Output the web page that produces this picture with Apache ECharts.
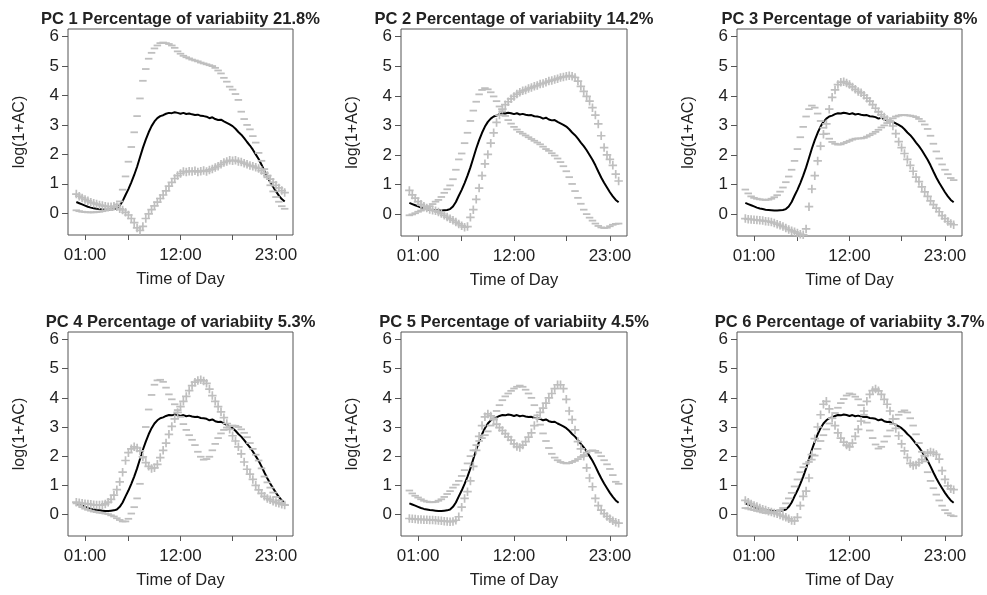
<!DOCTYPE html>
<html><head><meta charset="utf-8">
<script src="https://cdn.jsdelivr.net/npm/echarts@6/dist/echarts.min.js"></script>
<style>html,body{margin:0;padding:0;background:#fff}#c{width:987px;height:595px}</style>
</head><body><div id="c"></div>
<script>
// time of day in minutes since midnight (20-minute bins)
const minutes = [0,20,40,60,80,100,120,140,160,180,200,220,240,260,280,300,320,340,360,380,400,420,440,460,480,500,520,540,560,580,600,620,640,660,680,700,720,740,760,780,800,820,840,860,880,900,920,940,960,980,1000,1020,1040,1060,1080,1100,1120,1140,1160,1180,1200,1220,1240,1260,1280,1300,1320,1340,1360,1380,1400,1420,1440];
const xTickValues = [60,360,720,1080,1380];
const xLabelValues = [60,720,1380];
const yTickValues = [0,1,2,3,4,5,6];

const panelTitles = [
  "PC 1 Percentage of variabiity 21.8%",
  "PC 2 Percentage of variabiity 14.2%",
  "PC 3 Percentage of variabiity 8%",
  "PC 4 Percentage of variabiity 5.3%",
  "PC 5 Percentage of variabiity 4.5%",
  "PC 6 Percentage of variabiity 3.7%"
];

const meanCurve = [0.38,0.34,0.30,0.26,0.22,0.19,0.17,0.15,0.14,0.13,0.12,0.12,0.13,0.14,0.17,0.26,0.41,0.62,0.82,1.05,1.30,1.58,1.90,2.22,2.50,2.75,2.96,3.12,3.23,3.30,3.33,3.38,3.41,3.40,3.43,3.41,3.38,3.41,3.37,3.39,3.36,3.34,3.35,3.31,3.30,3.28,3.23,3.26,3.20,3.17,3.18,3.12,3.07,3.02,2.96,2.87,2.76,2.67,2.55,2.42,2.30,2.16,2.00,1.84,1.65,1.44,1.24,1.06,0.90,0.74,0.60,0.48,0.40];

const pc1Plus = [0.65,0.58,0.52,0.47,0.42,0.37,0.34,0.31,0.28,0.26,0.24,0.22,0.22,0.24,0.22,0.15,0.11,0.03,-0.06,-0.18,-0.32,-0.50,-0.58,-0.45,-0.18,-0.02,0.12,0.25,0.38,0.50,0.62,0.76,0.92,1.05,1.18,1.28,1.35,1.42,1.40,1.43,1.42,1.44,1.40,1.43,1.45,1.42,1.47,1.50,1.55,1.60,1.66,1.72,1.76,1.80,1.78,1.80,1.76,1.74,1.70,1.66,1.62,1.60,1.56,1.52,1.45,1.36,1.28,1.16,1.05,0.95,0.86,0.77,0.70];
const pc1Minus = [0.10,0.07,0.05,0.04,0.03,0.03,0.03,0.04,0.05,0.07,0.09,0.11,0.14,0.20,0.30,0.40,0.80,1.25,1.75,2.25,2.75,3.30,3.90,4.50,4.90,5.25,5.45,5.60,5.70,5.78,5.80,5.78,5.75,5.70,5.62,5.50,5.42,5.35,5.30,5.26,5.22,5.19,5.16,5.12,5.09,5.06,5.03,5.00,4.94,4.85,4.75,4.60,4.47,4.30,4.20,4.05,3.85,3.45,3.20,3.00,2.85,2.62,2.40,2.05,1.78,1.50,1.22,0.95,0.74,0.55,0.39,0.24,0.15];

const pc2Plus = [0.80,0.65,0.54,0.42,0.33,0.27,0.21,0.16,0.13,0.11,0.07,0.02,-0.04,-0.10,-0.16,-0.21,-0.27,-0.33,-0.39,-0.44,-0.42,-0.11,0.15,0.50,0.88,1.30,1.70,2.02,2.40,2.75,3.10,3.35,3.55,3.70,3.80,3.90,3.98,4.06,4.12,4.17,4.20,4.25,4.28,4.32,4.35,4.40,4.42,4.46,4.50,4.52,4.55,4.58,4.62,4.64,4.66,4.68,4.66,4.62,4.50,4.32,4.15,3.98,3.82,3.60,3.35,3.05,2.65,2.25,2.00,1.85,1.65,1.35,1.12];
const pc2Minus = [-0.04,-0.01,0.03,0.08,0.12,0.16,0.21,0.27,0.34,0.42,0.48,0.58,0.72,0.84,0.97,1.18,1.50,1.85,2.05,2.40,2.75,3.15,3.50,3.80,4.05,4.20,4.26,4.22,4.12,3.98,3.82,3.64,3.48,3.32,3.18,3.06,2.95,2.86,2.78,2.72,2.66,2.60,2.54,2.48,2.42,2.36,2.28,2.20,2.14,2.06,1.98,1.88,1.76,1.62,1.45,1.25,1.02,0.78,0.55,0.35,0.15,0.00,-0.12,-0.22,-0.32,-0.40,-0.45,-0.47,-0.46,-0.41,-0.36,-0.33,-0.32];

const pc3Plus = [-0.15,-0.17,-0.18,-0.19,-0.20,-0.21,-0.22,-0.24,-0.25,-0.27,-0.30,-0.34,-0.38,-0.42,-0.47,-0.52,-0.56,-0.60,-0.64,-0.68,-0.70,-0.50,0.25,0.85,1.30,1.80,2.30,2.70,3.05,3.55,3.95,4.20,4.38,4.46,4.48,4.43,4.38,4.30,4.22,4.15,4.10,4.02,3.92,3.82,3.70,3.58,3.46,3.36,3.28,3.20,3.12,2.98,2.72,2.45,2.25,2.05,1.85,1.65,1.45,1.25,1.10,0.92,0.75,0.60,0.45,0.32,0.20,0.08,-0.05,-0.15,-0.25,-0.32,-0.36];
const pc3Minus = [0.83,0.70,0.60,0.55,0.52,0.50,0.49,0.48,0.49,0.52,0.57,0.64,0.76,0.90,1.08,1.27,1.50,1.80,2.20,2.60,2.95,3.30,3.55,3.67,3.60,3.40,3.15,2.92,2.72,2.55,2.44,2.38,2.35,2.36,2.40,2.44,2.48,2.52,2.55,2.56,2.56,2.58,2.62,2.67,2.72,2.78,2.85,2.93,3.00,3.08,3.16,3.24,3.30,3.33,3.35,3.35,3.34,3.33,3.31,3.28,3.22,3.14,3.03,2.88,2.65,2.38,2.12,1.88,1.68,1.50,1.35,1.22,1.15];

const pc4Plus = [0.42,0.40,0.38,0.37,0.36,0.35,0.33,0.32,0.32,0.33,0.36,0.42,0.52,0.66,0.85,1.12,1.45,1.85,2.12,2.25,2.32,2.28,2.18,1.98,1.78,1.65,1.58,1.60,1.72,1.95,2.20,2.45,2.75,3.02,3.28,3.50,3.70,3.88,4.05,4.25,4.42,4.54,4.60,4.62,4.58,4.50,4.30,4.08,3.88,3.70,3.52,3.32,3.12,2.92,2.70,2.52,2.32,2.08,1.80,1.55,1.38,1.20,1.00,0.84,0.72,0.62,0.55,0.50,0.45,0.41,0.38,0.35,0.32];
const pc4Minus = [0.38,0.32,0.25,0.20,0.16,0.13,0.10,0.08,0.06,0.05,0.03,0.01,-0.03,-0.07,-0.13,-0.19,-0.24,-0.24,-0.15,0.03,0.25,0.55,1.05,1.95,3.00,3.60,4.10,4.45,4.60,4.62,4.55,4.35,4.12,3.95,3.78,3.58,3.35,3.10,2.90,2.72,2.56,2.38,2.15,1.98,1.88,1.90,1.98,2.20,2.42,2.62,2.78,2.90,2.98,3.03,3.05,3.04,3.00,2.92,2.80,2.65,2.45,2.25,2.05,1.85,1.58,1.30,1.10,0.92,0.75,0.60,0.48,0.40,0.33];

const pc5Plus = [-0.14,-0.15,-0.16,-0.17,-0.17,-0.18,-0.18,-0.19,-0.19,-0.20,-0.21,-0.22,-0.23,-0.24,-0.25,-0.24,-0.20,-0.08,0.25,0.55,0.78,1.15,1.65,2.20,2.68,3.05,3.35,3.45,3.38,3.25,3.10,2.98,2.88,2.77,2.66,2.55,2.42,2.33,2.30,2.38,2.50,2.65,2.80,3.05,3.30,3.50,3.65,3.82,4.00,4.15,4.32,4.45,4.45,4.32,3.95,3.55,3.25,2.90,2.50,2.25,2.00,1.60,1.25,0.95,0.55,0.30,0.15,0.03,-0.07,-0.15,-0.22,-0.27,-0.30];
const pc5Minus = [0.82,0.72,0.64,0.58,0.52,0.47,0.44,0.42,0.42,0.43,0.47,0.52,0.60,0.70,0.80,0.92,1.02,1.15,1.32,1.52,1.75,2.00,2.20,2.38,2.52,2.62,2.72,2.85,3.05,3.30,3.55,3.75,3.92,4.05,4.15,4.24,4.32,4.38,4.42,4.38,4.28,4.15,4.00,3.75,3.40,3.08,2.78,2.52,2.28,2.08,1.95,1.86,1.80,1.77,1.75,1.76,1.80,1.84,1.90,1.97,2.04,2.12,2.18,2.20,2.18,2.12,2.00,1.86,1.72,1.56,1.35,1.12,1.05];

const pc6Plus = [0.48,0.42,0.36,0.31,0.27,0.22,0.18,0.15,0.11,0.08,0.05,0.02,-0.02,-0.06,-0.10,-0.15,-0.21,-0.22,-0.10,0.30,0.62,0.80,1.25,2.05,2.60,3.00,3.42,3.78,3.88,3.62,3.30,3.05,2.80,2.62,2.48,2.38,2.32,2.45,2.68,2.92,3.20,3.55,3.88,4.12,4.25,4.30,4.24,4.12,3.95,3.78,3.55,3.28,2.95,2.70,2.42,2.18,1.95,1.75,1.68,1.70,1.78,1.88,2.02,2.10,2.14,2.12,2.06,1.90,1.50,1.20,0.98,0.88,0.85];
const pc6Minus = [0.22,0.20,0.17,0.15,0.12,0.10,0.07,0.05,0.04,0.04,0.06,0.10,0.15,0.22,0.38,0.55,0.74,0.96,1.20,1.45,1.62,1.74,1.80,1.88,2.02,2.25,2.52,2.72,2.92,3.12,3.30,3.48,3.66,3.82,3.96,4.08,4.15,4.12,4.04,3.95,3.75,3.42,3.15,2.88,2.62,2.40,2.26,2.32,2.50,2.68,2.88,3.10,3.28,3.42,3.52,3.57,3.50,3.30,3.05,2.75,2.45,2.15,1.82,1.45,1.15,0.90,0.68,0.48,0.30,0.15,0.04,-0.03,-0.06];

const plusSeries = [pc1Plus, pc2Plus, pc3Plus, pc4Plus, pc5Plus, pc6Plus];
const minusSeries = [pc1Minus, pc2Minus, pc3Minus, pc4Minus, pc5Minus, pc6Minus];

// layout (plot boxes: left, top, width, height)
const boxes = [[68,29,225,206],[401,29,226,207],[737,29,225,207],[68,332,225,204],[401,332,226,204],[737,332,225,204]];
const FONT = 'Liberation Sans, Arial, Helvetica, sans-serif';
const TEXT = '#222';
const LINEC = '#555';
const GRAY = '#bfbfbf';
const PLUS = 'path://M4,0H6V4H10V6H6V10H4V6H0V4H4Z';

const pair = arr => minutes.map((m, i) => [m, arr[i]]);
const grids = [], xAxes = [], yAxes = [], series = [], titles = [];
boxes.forEach((b, i) => {
  grids.push({left: b[0], top: b[1], width: b[2], height: b[3], show: true, borderColor: LINEC, borderWidth: 1, backgroundColor: 'transparent', containLabel: false});
  xAxes.push({
    type: 'value', gridIndex: i, min: -57.6, max: 1497.6, position: 'bottom',
    name: 'Time of Day', nameLocation: 'middle', nameGap: 36,
    nameTextStyle: {fontFamily: FONT, fontSize: 16.5, color: TEXT},
    axisLine: {show: false, onZero: false}, splitLine: {show: false},
    axisTick: {show: true, inside: false, length: 5, lineStyle: {color: LINEC}, customValues: xTickValues},
    axisLabel: {fontFamily: FONT, fontSize: 17, color: TEXT, margin: 12, customValues: xLabelValues,
      formatter: v => String(Math.round(v / 60)).padStart(2, '0') + ':00'}
  });
  yAxes.push({
    type: 'value', gridIndex: i, min: -0.74, max: 6.26, position: 'left',
    name: 'log(1+AC)', nameLocation: 'middle', nameGap: 40, nameRotate: 90,
    nameTextStyle: {fontFamily: FONT, fontSize: 16, color: TEXT},
    axisLine: {show: false, onZero: false}, splitLine: {show: false},
    axisTick: {show: true, inside: false, length: 6, lineStyle: {color: LINEC}, customValues: yTickValues},
    axisLabel: {fontFamily: FONT, fontSize: 17, color: TEXT, margin: 9, customValues: yTickValues}
  });
  series.push({type: 'line', xAxisIndex: i, yAxisIndex: i, data: pair(meanCurve), showSymbol: false, symbol: 'none',
    lineStyle: {color: '#000', width: 2}, z: 2, silent: true, animation: false});
  series.push({type: 'scatter', xAxisIndex: i, yAxisIndex: i, data: pair(plusSeries[i]), symbol: PLUS, symbolSize: 8.5,
    itemStyle: {color: GRAY, opacity: 1}, z: 3, silent: true, animation: false});
  series.push({type: 'scatter', xAxisIndex: i, yAxisIndex: i, data: pair(minusSeries[i]), symbol: 'rect', symbolSize: [7.5, 1.8],
    itemStyle: {color: GRAY, opacity: 1}, z: 3, silent: true, animation: false});
  titles.push({text: panelTitles[i], left: b[0] + b[2] / 2, top: b[1] - 18, textAlign: 'center',
    textStyle: {fontFamily: FONT, fontSize: 16.5, fontWeight: 'bold', color: TEXT}, padding: 0});
});

const chart = echarts.init(document.getElementById('c'), null, {renderer: 'canvas'});
chart.setOption({backgroundColor: '#fff', animation: false, title: titles, grid: grids, xAxis: xAxes, yAxis: yAxes, series: series});
</script></body></html>
